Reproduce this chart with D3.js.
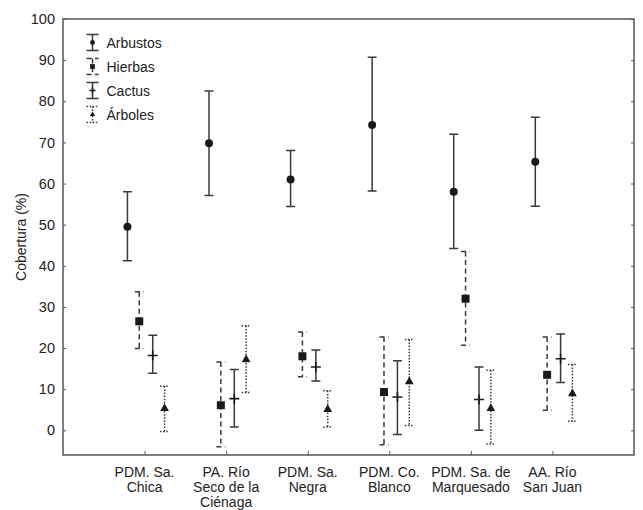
<!DOCTYPE html>
<html><head><meta charset="utf-8">
<script src="https://cdn.jsdelivr.net/npm/d3@7"></script>
<style>
body{margin:0;background:#fff;}
text{font-family:"Liberation Sans",Arial,sans-serif;fill:#222;}
</style></head>
<body>
<svg id="chart" width="643" height="510"></svg>
<script>
const categories = [
  ["PDM. Sa.", "Chica"],
  ["PA. Río", "Seco de la", "Ciénaga"],
  ["PDM. Sa.", "Negra"],
  ["PDM. Co.", "Blanco"],
  ["PDM. Sa. de", "Marquesado"],
  ["AA. Río", "San Juan"]
];
const seriesNames = ["Arbustos", "Hierbas", "Cactus", "Árboles"];
const arbustosMean = [49.5, 69.8, 61.0, 74.2, 58.0, 65.3];
const arbustosLow  = [41.2, 57.1, 54.4, 58.2, 44.2, 54.5];
const arbustosHigh = [58.0, 82.5, 68.0, 90.7, 72.0, 76.1];
const hierbasMean  = [26.5, 6.1, 18.0, 9.3, 32.0, 13.5];
const hierbasLow   = [19.9, -4.0, 13.0, -3.5, 20.7, 4.9];
const hierbasHigh  = [33.7, 16.6, 23.9, 22.7, 43.5, 22.7];
const cactusMean   = [18.2, 7.7, 15.4, 8.1, 7.5, 17.4];
const cactusLow    = [13.9, 0.8, 12.0, -1.0, 0.0, 11.6];
const cactusHigh   = [23.1, 14.8, 19.5, 16.9, 15.4, 23.4];
const arbolesMean  = [5.3, 17.2, 5.1, 11.8, 5.3, 8.9];
const arbolesLow   = [-0.3, 9.2, 0.8, 1.2, -3.3, 2.2];
const arbolesHigh  = [10.7, 25.4, 9.6, 22.1, 14.6, 16.0];
const yTicks = [0, 10, 20, 30, 40, 50, 60, 70, 80, 90, 100];

const series = [
  {name: seriesNames[0], mean: arbustosMean, low: arbustosLow, high: arbustosHigh, dash: null, marker: "circle"},
  {name: seriesNames[1], mean: hierbasMean, low: hierbasLow, high: hierbasHigh, dash: "5,3.5", marker: "square"},
  {name: seriesNames[2], mean: cactusMean, low: cactusLow, high: cactusHigh, dash: null, marker: "plus"},
  {name: seriesNames[3], mean: arbolesMean, low: arbolesLow, high: arbolesHigh, dash: "1.5,1.6", marker: "triangle"}
];
const offsets = [-0.21, -0.065, 0.1, 0.245];

const svg = d3.select("#chart");
const L = 63, R = 634, T = 19, B = 455;
const x = d3.scaleLinear().domain([0, 7]).range([L, R]);
const y = d3.scaleLinear().domain([-6, 100]).range([B, T]);
const lineColor = "#3a3a3a";

// frame
svg.append("rect").attr("x", L).attr("y", T).attr("width", R - L).attr("height", B - T)
  .attr("fill", "none").attr("stroke", "#555").attr("stroke-width", 1.5);

// y axis left
const yAxisL = d3.axisLeft(y).tickValues(yTicks).tickSize(-3).tickPadding(8);
const gl = svg.append("g").attr("transform", `translate(${L},0)`).call(yAxisL);
gl.select(".domain").remove();
gl.selectAll(".tick line").attr("stroke", "#555");
gl.selectAll(".tick text").attr("font-size", 14.5).attr("fill", "#222")
  .style("font-family", "'Liberation Sans', Arial, sans-serif");
// y axis right (ticks only)
const yAxisR = d3.axisRight(y).tickValues(yTicks).tickSize(-3).tickFormat("");
const gr = svg.append("g").attr("transform", `translate(${R},0)`).call(yAxisR);
gr.select(".domain").remove();
gr.selectAll(".tick line").attr("stroke", "#555");

// x axis
const xAxis = d3.axisBottom(x).tickValues(d3.range(1, categories.length + 1)).tickSize(-4).tickFormat("");
const gx = svg.append("g").attr("transform", `translate(0,${B})`).call(xAxis);
gx.select(".domain").remove();
gx.selectAll(".tick line").attr("stroke", "#555");
categories.forEach((lines, i) => {
  const t = svg.append("text").attr("x", x(i + 1)).attr("y", B + 22)
    .attr("text-anchor", "middle").attr("font-size", 14);
  lines.forEach((ln, j) => t.append("tspan").attr("x", x(i + 1)).attr("dy", j === 0 ? 0 : 15).text(ln));
});

// y title
svg.append("text").attr("transform", `translate(26,${(T + B) / 2}) rotate(-90)`)
  .attr("text-anchor", "middle").attr("font-size", 14).text("Cobertura (%)");

function drawMarker(g, type, cx, cy, s) {
  if (type === "circle") {
    g.append("circle").attr("cx", cx).attr("cy", cy).attr("r", 4 * s).attr("fill", "#1a1a1a");
  } else if (type === "square") {
    const w = 8 * s;
    g.append("rect").attr("x", cx - w / 2).attr("y", cy - w / 2).attr("width", w).attr("height", w).attr("fill", "#1a1a1a");
  } else if (type === "plus") {
    const h = 5 * s;
    g.append("path").attr("d", `M${cx - h},${cy}H${cx + h}M${cx},${cy - h}V${cy + h}`)
      .attr("stroke", "#1a1a1a").attr("stroke-width", 1.6).attr("fill", "none");
  } else if (type === "triangle") {
    g.append("path").attr("d", d3.symbol(d3.symbolTriangle, 34 * s * s)()).attr("transform", `translate(${cx},${cy})`)
      .attr("fill", "#1a1a1a");
  }
}

series.forEach((s, si) => {
  const g = svg.append("g");
  s.mean.forEach((m, i) => {
    const cx = x(i + 1 + offsets[si]);
    const y1 = y(s.high[i]), y2 = y(s.low[i]);
    const cap = 4.5;
    const p = g.append("path")
      .attr("d", `M${cx},${y1}V${y2}M${cx - cap},${y1}H${cx + cap}M${cx - cap},${y2}H${cx + cap}`)
      .attr("stroke", lineColor).attr("stroke-width", 1.5).attr("fill", "none");
    if (s.dash) p.attr("stroke-dasharray", s.dash);
    drawMarker(g, s.marker, cx, y(m), 1);
  });
});

// legend
const legX = 92.5, legY0 = 42.5, legStep = 24;
series.forEach((s, si) => {
  const cy = legY0 + si * legStep;
  const g = svg.append("g");
  const p = g.append("path")
    .attr("d", `M${legX},${cy - 8}V${cy + 8}M${legX - 6},${cy - 8}H${legX + 6}M${legX - 6},${cy + 8}H${legX + 6}`)
    .attr("stroke", lineColor).attr("stroke-width", 1.5).attr("fill", "none");
  if (s.dash) p.attr("stroke-dasharray", s.dash);
  drawMarker(g, s.marker, legX, cy, 0.6);
  g.append("text").attr("x", legX + 14).attr("y", cy + 5).attr("font-size", 14).text(s.name);
});
</script>
</body></html>
